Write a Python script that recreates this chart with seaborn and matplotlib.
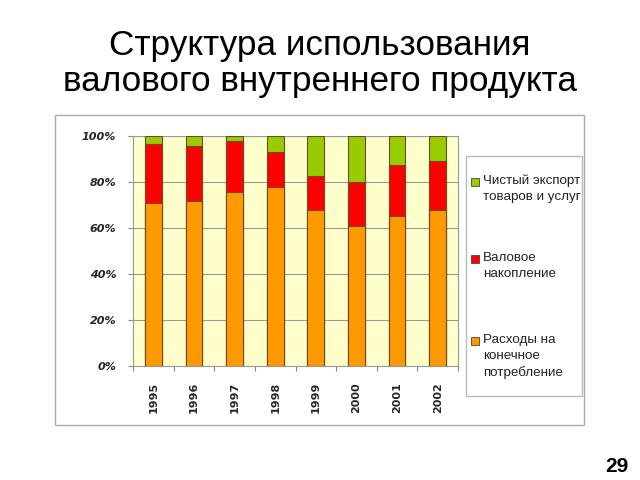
import matplotlib
matplotlib.use("Agg")
import matplotlib.pyplot as plt
import matplotlib.patches as mpatches
import seaborn as sns
import pandas as pd
import numpy as np

years = ["1995", "1996", "1997", "1998", "1999", "2000", "2001", "2002"]
consumption = [71.0, 71.9, 75.6, 77.8, 67.8, 61.0, 65.2, 67.8]
accumulation = [25.5, 23.6, 22.4, 15.3, 15.0, 18.8, 22.0, 21.4]
net_export = [3.5, 4.5, 2.0, 6.9, 17.2, 20.2, 12.8, 10.8]

labels = ["Чистый экспорт\nтоваров и услуг", "Валовое\nнакопление",
          "Расходы на\nконечное\nпотребление"]
colors = ["#99CC00", "#FF0000", "#FF9900"]
ytick_labels = ["0%", "20%", "40%", "60%", "80%", "100%"]

sns.set_theme(style="white")
plt.rcParams['font.family'] = ['Liberation Sans', 'DejaVu Sans']

df = pd.DataFrame({"year": years, "cons": consumption, "acc": accumulation, "exp": net_export})
df["lvl1"] = df["cons"]
df["lvl2"] = df["cons"] + df["acc"]
df["lvl3"] = df["cons"] + df["acc"] + df["exp"]

W, H = 640, 480
fig = plt.figure(figsize=(6.4, 4.8), dpi=100)
fig.patch.set_facecolor("white")

def fx(px):
    return px / W

def fy(py):
    return 1 - py / H

# outer chart frame
frame = mpatches.Rectangle((fx(55), fy(425)), fx(584 - 55), (425 - 115) / H,
                           transform=fig.transFigure, facecolor="white",
                           edgecolor="#AAAAAA", linewidth=1.0, zorder=-5)
fig.patches.append(frame)

ax = fig.add_axes([fx(133), fy(366), fx(458 - 133), (366 - 136) / H])
ax.set_facecolor("#FFFFCC")

for col, c in zip(["lvl3", "lvl2", "lvl1"], colors):
    sns.barplot(data=df, x="year", y=col, color=c, width=0.41, ax=ax,
                edgecolor="#6b4a2a", linewidth=0.8, saturation=1, zorder=3)

ax.set_xlim(-0.5, 7.5)
ax.set_ylim(0, 100)
ax.set_yticks([0, 20, 40, 60, 80, 100])
ax.set_yticklabels(ytick_labels, fontsize=8, fontweight="bold", fontstyle="italic",
                   family="DejaVu Sans")
ax.yaxis.grid(True, color="#9a9a9a", linewidth=0.8, zorder=0)
ax.set_axisbelow(True)
ax.set_xlabel("")
ax.set_ylabel("")
ax.set_xticks(range(len(years)))
ax.set_xticklabels(years, rotation=90, fontsize=8, fontweight="bold", family="DejaVu Sans")
ax.tick_params(axis="x", which="major", length=0, pad=11.5)
ax.set_xticks(np.arange(-0.5, 8.0, 1.0), minor=True)
ax.tick_params(axis="x", which="minor", length=3.5, color="#888888", direction="out",
               bottom=True, width=0.8)
ax.tick_params(axis="y", length=3.5, color="#888888", direction="out", left=True, pad=8.6,
               width=0.8)
for s in ax.spines.values():
    s.set_color("#9a9a9a")
    s.set_linewidth(0.8)

# legend box
legbox = mpatches.Rectangle((fx(466), fy(396)), fx(582 - 466), (396 - 156) / H,
                            transform=fig.transFigure, facecolor="white",
                            edgecolor="#BBBBBB", linewidth=1.0, zorder=1)
fig.patches.append(legbox)
entry_y = [182, 259, 341]
for lab, c, yy in zip(labels, colors, entry_y):
    sq = mpatches.Rectangle((fx(471), fy(yy + 4)), fx(8), 8 / H,
                            transform=fig.transFigure, facecolor=c,
                            edgecolor="#444444", linewidth=0.6, zorder=2)
    fig.patches.append(sq)
    fig.text(fx(483), fy(yy - 7), lab, ha="left", va="top", fontsize=9.6,
             linespacing=1.4, color="#222222", zorder=3)

fig.text(0.5, fy(45), "Структура использования", ha="center", va="center",
         fontsize=25.3, color="black")
fig.text(0.5, fy(82), "валового внутреннего продукта", ha="center", va="center",
         fontsize=25.3, color="black")
fig.text(fx(617), fy(466), "29", ha="center", va="center", fontsize=15, fontweight="bold",
         color="black")

fig.savefig("out.png", dpi=100)
